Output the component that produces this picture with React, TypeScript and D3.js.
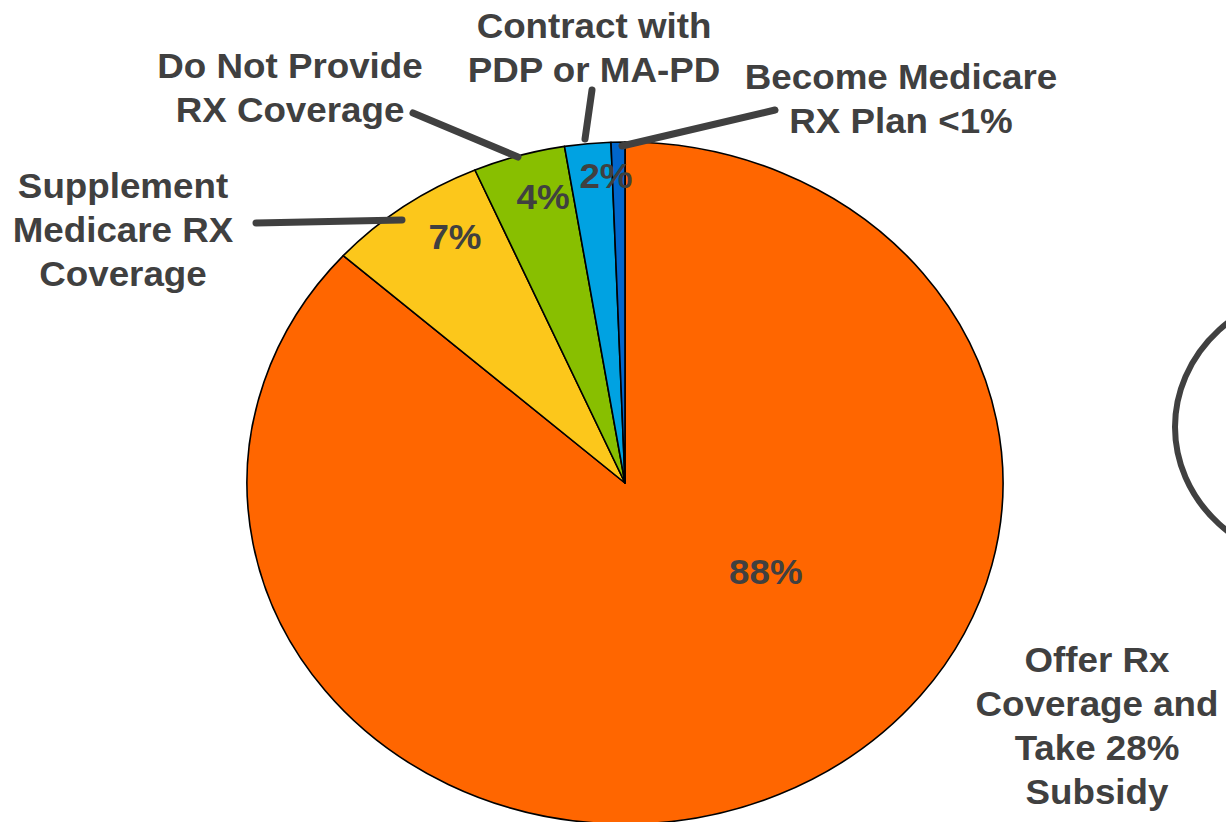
import React from "react";
import * as d3 from "d3";

// Share of employers by retiree drug-coverage choice
const categories = [
  "Offer Rx Coverage and Take 28% Subsidy",
  "Supplement Medicare RX Coverage",
  "Do Not Provide RX Coverage",
  "Contract with PDP or MA-PD",
  "Become Medicare RX Plan <1%",
];
const values = [88, 7, 4, 2, 0.6];
const valueLabels = ["88%", "7%", "4%", "2%", ""];
const colors = ["#FF6600", "#FCC71B", "#88BF00", "#00A2E2", "#0066CC"];

const W = 1226;
const H = 822;
const cx = 625;
const cy = 483;
const rx = 378;
const ry = 341;
const TEXT = "#404040";
const FONT = "'Liberation Sans', Arial, Helvetica, sans-serif";
const STRETCH = 1.05;

type Callout = { lines: string[]; x: number; y: number; leader?: [number, number, number, number] };

const callouts: Callout[] = [
  { lines: ["Offer Rx", "Coverage and", "Take 28%", "Subsidy"], x: 1097, y: 672 },
  { lines: ["Supplement", "Medicare RX", "Coverage"], x: 123, y: 198, leader: [256, 223, 402, 220] },
  { lines: ["Do Not Provide", "RX Coverage"], x: 290, y: 78, leader: [413, 113, 518, 157] },
  { lines: ["Contract with", "PDP or MA-PD"], x: 594, y: 38, leader: [592, 90, 585, 139] },
  { lines: ["Become Medicare", "RX Plan <1%"], x: 901, y: 89, leader: [775, 110, 622, 146] },
];

// in-slice label placement: angle (deg, clockwise from top) and fraction of radius
const labelPlacement: [number, number][] = [
  [125, 0.455],
  [328, 0.849],
  [345.5, 0.866],
  [356.8, 0.902],
  [0, 0],
];

export default function App() {
  const pie = d3.pie<number>().sort(null).value((d) => d);
  const arcs = pie(values);
  const arc = d3.arc<d3.PieArcDatum<number>>().innerRadius(0).outerRadius(rx);
  const sy = ry / rx;

  return (
    <svg
      width={W}
      height={H}
      style={{ position: "absolute", left: 0, top: 0, background: "#fff" }}
      fontFamily={FONT}
    >
      {/* partial outline of the neighbouring chart */}
      <ellipse cx={1325} cy={427} rx={150} ry={137} fill="none" stroke={TEXT} strokeWidth={6} />

      <g transform={`translate(${cx},${cy}) scale(1,${sy})`}>
        {arcs.map((a, i) => (
          <path
            key={categories[i]}
            d={arc(a) || ""}
            fill={colors[i]}
            stroke="#000"
            strokeWidth={1.6}
            vectorEffect="non-scaling-stroke"
            strokeLinejoin="round"
          />
        ))}
      </g>

      {arcs.map((a, i) => {
        if (!valueLabels[i]) return null;
        const [deg, r] = labelPlacement[i];
        const ang = (deg * Math.PI) / 180;
        const x = cx + Math.sin(ang) * rx * r;
        const y = cy - Math.cos(ang) * ry * r;
        return (
          <text
            key={"v" + i}
            transform={`translate(${x},${y}) scale(${STRETCH},1)`}
            textAnchor="middle"
            dominantBaseline="central"
            fontSize={35}
            fontWeight="bold"
            fill={TEXT}
          >
            {valueLabels[i]}
          </text>
        );
      })}

      {callouts.map((c, i) => (
        <g key={"c" + i}>
          {c.leader && (
            <line
              x1={c.leader[0]}
              y1={c.leader[1]}
              x2={c.leader[2]}
              y2={c.leader[3]}
              stroke={TEXT}
              strokeWidth={7}
              strokeLinecap="round"
            />
          )}
          <text
            transform={`translate(${c.x},${c.y}) scale(${STRETCH},1)`}
            textAnchor="middle"
            fontSize={35}
            fontWeight="bold"
            fill={TEXT}
          >
            {c.lines.map((l, j) => (
              <tspan key={j} x={0} y={j * 44}>
                {l}
              </tspan>
            ))}
          </text>
        </g>
      ))}
    </svg>
  );
}
